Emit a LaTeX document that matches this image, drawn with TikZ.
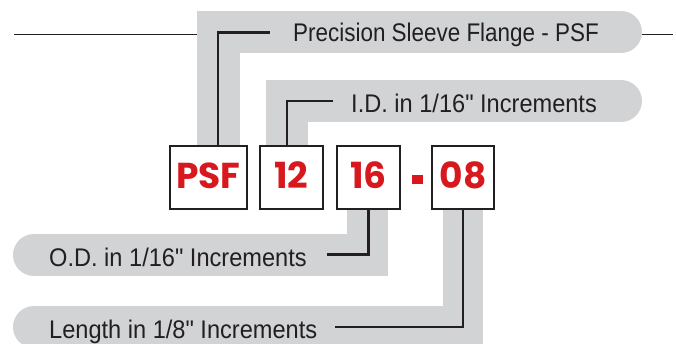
\documentclass[tikz,border=0pt]{standalone}
\usepackage{fontspec}
\setmainfont{Liberation Sans}
\newfontfamily\lblfont{Liberation Sans}[FakeStretch=0.88]
\newfontfamily\lblwidefont{Liberation Sans}[FakeStretch=0.925]
\newfontfamily\codefont{Poppins}
\definecolor{bandgray}{HTML}{D1D3D4}
\definecolor{codered}{HTML}{D7191F}
\definecolor{ink}{HTML}{231F20}

\begin{document}
\begin{tikzpicture}[x=1pt,y=-1pt,
  band/.style={fill=bandgray},
  conn/.style={draw=ink,line width=2.6pt},
  rule/.style={draw=ink,line width=1.1pt},
  codebox/.style={draw=ink,line width=2.4pt,fill=white,inner sep=0pt,
    minimum height=62.6pt,text height=25pt,text depth=3pt,text=codered,
    font=\codefont\bfseries\fontsize{36}{36}\selectfont},
  lbl/.style={anchor=base west,inner sep=0pt,text=ink,
    font=\lblfont\fontsize{25.5}{26}\selectfont},
  lblwide/.style={lbl,font=\lblwidefont\fontsize{25.5}{26}\selectfont}]
  \useasboundingbox (0,0) rectangle (676,343);

  % grey bands
  \fill[band] (197,11) rectangle (621,53);
  \fill[band] (621,32) circle (21pt);
  \fill[band] (197,53) rectangle (240,146);
  \fill[band] (266,80) rectangle (621,122);
  \fill[band] (621,101) circle (21pt);
  \fill[band] (266,122) rectangle (308,146);
  \fill[band] (34,234) rectangle (388,276);
  \fill[band] (34,255) circle (21pt);
  \fill[band] (347,209) rectangle (388,234);
  \fill[band] (34,306) rectangle (483,348);
  \fill[band] (34,327) circle (21pt);
  \fill[band] (443,209) rectangle (483,306);

  % thin rules
  \draw[rule] (14,34.5) -- (197,34.5);
  \draw[rule] (642,34.5) -- (673,34.5);

  % part number
  \node[codebox,minimum width=76.6pt] (psf) at (208.5,177.5) {PSF};
  \node[codebox,minimum width=62.6pt] (id) at (291.5,177.5) {12};
  \node[codebox,minimum width=62.6pt] (od) at (368.5,177.5) {16};
  \node[fill=codered,minimum width=11pt,minimum height=9pt,inner sep=0pt] (dash) at (417.5,179.5) {};
  \node[codebox,minimum width=61.6pt] (len) at (463,177.5) {08};

  % labels
  \node[lbl] (tpsf) at (293,41.5) {Precision Sleeve Flange - PSF};
  \node[lblwide] (tid) at (351,112.5) {I.D. in 1/16" Increments};
  \node[lblwide] (tod) at (49,266.5) {O.D. in 1/16" Increments};
  \node[lblwide] (tlen) at (49,338) {Length in 1/8" Increments};

  % connectors
  \coordinate (cpsf) at (270,32.5);
  \coordinate (cid) at (333,101);
  \coordinate (cod) at (327,254.5);
  \coordinate (clen) at (335,327);
  \draw[conn] ([xshift=9.5]psf.north) |- (cpsf);
  \draw[conn] ([xshift=-4.5]id.north) |- (cid);
  \draw[conn] (od.south) |- (cod);
  \draw[conn] (len.south) |- (clen);
\end{tikzpicture}
\end{document}
